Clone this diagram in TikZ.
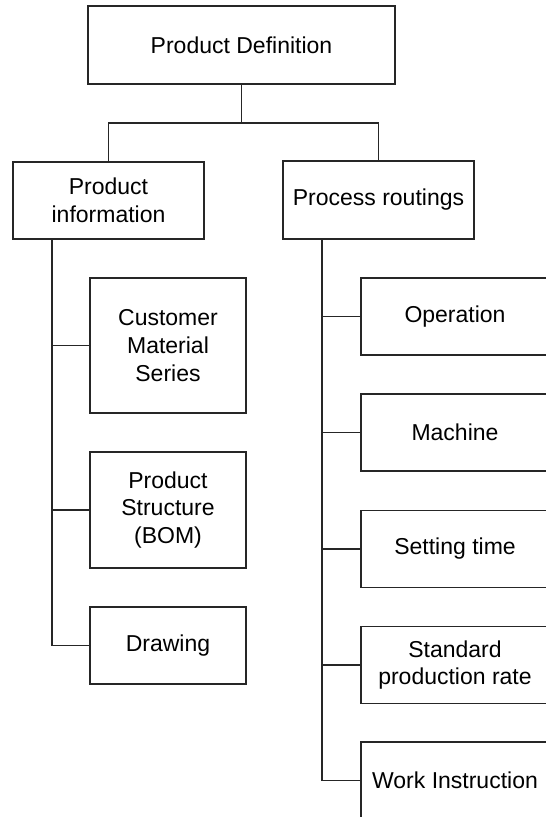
\documentclass[tikz,border=0pt]{standalone}
\usepackage{fontspec}
\setmainfont{Liberation Sans}
\begin{document}
\begin{tikzpicture}[x=1pt,y=-1pt,
  box/.style={draw=black!85,line width=1.8pt,rectangle,inner sep=0pt,align=center,
    font=\fontsize{23}{27.6}\selectfont,text=black},
  conn/.style={draw=black!85,line width=1.8pt}]
\clip (0,0) rectangle (546,817);
\fill[white] (0,0) rectangle (546,817);
\node[box,minimum width=307pt,minimum height=78pt] (def) at (241.5,45) {Product Definition};
\node[box,minimum width=191pt,minimum height=77pt] (info) at (108.5,200.5) {Product\\information};
\node[box,minimum width=191pt,minimum height=78pt] (proc) at (378.5,200) {Process routings};
\node[box,minimum width=156pt,minimum height=135pt] (cust) at (168,345.5) {Customer\\Material\\Series};
\node[box,minimum width=156pt,minimum height=116pt] (bom) at (168,510) {Product\\Structure\\(BOM)};
\node[box,minimum width=156pt,minimum height=77pt] (drw) at (168,645.5) {Drawing};
\node[box,minimum width=188pt,minimum height=77pt] (op) at (455,316.5) {Operation};
\node[box,minimum width=188pt,minimum height=77pt] (mach) at (455,432.5) {Machine};
\node[box,minimum width=188pt,minimum height=77pt] (set) at (455,549) {Setting time};
\node[box,minimum width=188pt,minimum height=77pt] (std) at (455,665) {Standard\\production rate};
\node[box,minimum width=188pt,minimum height=77pt] (work) at (455,780.5) {Work Instruction};
\coordinate (j) at (241.5,123);
\coordinate (ltop) at (52,239);
\coordinate (rtop) at (322,239);
\draw[conn] (def.south) -- (j);
\draw[conn] (info.north) |- (j) -| (proc.north);
\draw[conn] (ltop) |- (drw.west);
\draw[conn] (cust.west) -- (cust.west -| ltop);
\draw[conn] (bom.west) -- (bom.west -| ltop);
\draw[conn] (rtop) |- (work.west);
\draw[conn] (op.west) -- (op.west -| rtop);
\draw[conn] (mach.west) -- (mach.west -| rtop);
\draw[conn] (set.west) -- (set.west -| rtop);
\draw[conn] (std.west) -- (std.west -| rtop);
\end{tikzpicture}
\end{document}
